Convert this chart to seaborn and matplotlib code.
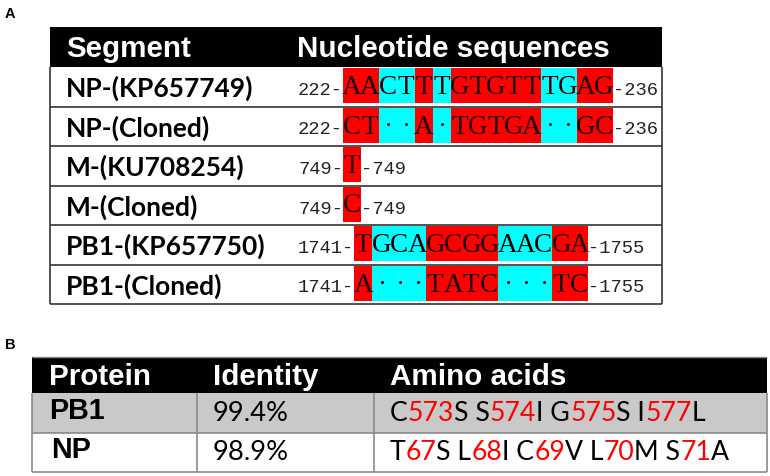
import re
from itertools import groupby

import matplotlib
matplotlib.use("Agg")
import matplotlib.pyplot as plt
from matplotlib.patches import Rectangle
import seaborn as sns

sns.set_theme(style="white")

# ---------------- data ----------------
panel_labels = ["A", "B"]

seg_header = ["Segment", "Nucleotide sequences"]
segments = ["NP-(KP657749)", "NP-(Cloned)", "M-(KU708254)", "M-(Cloned)",
            "PB1-(KP657750)", "PB1-(Cloned)"]
seq_start = ["222", "222", "749", "749", "1741", "1741"]
seq_end = ["236", "236", "749", "749", "1755", "1755"]
sequences = ["AACTTTGTGTTTGAG", "CT··A·TGTGA··GC", "T", "C",
             "TGCAGCGGAACGA", "A···TATC···TC"]
# R = differs (red), C = conserved (cyan)
mismatch = ["RRCCRCRRRRRCCRR", "RRCCRCRRRRRCCRR", "R", "R",
            "RCCCRRRRCCCRR", "RCCCRRRRCCCRR"]

prot_header = ["Protein", "Identity", "Amino acids"]
proteins = ["PB1", "NP"]
identity = ["99.4%", "98.9%"]
amino_acids = ["C573S S574I G575S I577L", "T67S L68I C69V L70M S71A"]

# ---------------- style ----------------
CELL_COLORS = {"R": "#ff0000", "C": "#00ffff"}
SANS_B = dict(family="Liberation Sans", weight="bold")
CAL_B = dict(family="Lato", weight="bold")
CAL_R = dict(family="Lato", weight="normal")
MONO = dict(family="Liberation Mono")
SEQF = dict(family="Liberation Serif")

fig = plt.figure(figsize=(7.7, 4.76), dpi=100)
ax = fig.add_axes([0, 0, 1, 1])
ax.set_xlim(0, 770)
ax.set_ylim(476, 0)
ax.axis("off")
renderer = fig.canvas.get_renderer()


def text_width(s, size, **kw):
    t = ax.text(0, 0, s, fontsize=size, **kw)
    w = t.get_window_extent(renderer).width
    t.remove()
    return w


def fit(s, target, **kw):
    return 20 * target / text_width(s, 20, **kw)


def hline(x0, x1, y, color, lw):
    ax.plot([x0, x1], [y, y], color=color, lw=lw, solid_capstyle="butt")


def vline(x, y0, y1, color, lw):
    ax.plot([x, x], [y0, y1], color=color, lw=lw, solid_capstyle="butt")


# panel labels
ax.text(5, 18, panel_labels[0], fontsize=10.5, va="baseline", ha="left", color="black", **SANS_B)
ax.text(5, 349, panel_labels[1], fontsize=10.5, va="baseline", ha="left", color="black", **SANS_B)

# ---------------- table A ----------------
A_L, A_R, A_T, A_H = 50, 662, 27, 67
ROW_A = 39.5
NUM_X = 298
MONO_ADV = 11.25       # px advance of the small monospace digits
CELL_W = 18.0          # px per nucleotide cell
num_size = MONO_ADV / 0.6 * 0.72

head_size = fit("Segment", 125, **SANS_B)
seg_size = fit(segments[0], 187, **CAL_B)
seq_size = 19.5

ax.add_patch(Rectangle((A_L, A_T), A_R - A_L, A_H - A_T, color="black", lw=0))
ax.text(66, A_T + 30, seg_header[0], fontsize=head_size, color="white", va="baseline", **SANS_B)
ax.text(297, A_T + 30, seg_header[1], fontsize=head_size, color="white", va="baseline", **SANS_B)

lineA = "#333333"
n = len(segments)
for i in range(n):
    top = A_H + i * ROW_A
    base = top + 29
    ax.text(66, base + 1, segments[i], fontsize=seg_size, color="black", va="baseline", **CAL_B)
    ax.text(NUM_X, base - 1, seq_start[i] + "-", fontsize=num_size, color="#222222",
            va="baseline", ha="left", **MONO)
    x0 = NUM_X + (len(seq_start[i]) + 1) * MONO_ADV
    j = 0
    for key, grp in groupby(mismatch[i]):
        k = len(list(grp))
        ax.add_patch(Rectangle((x0 + j * CELL_W, top + 1), k * CELL_W, ROW_A - 4.5,
                               color=CELL_COLORS[key], lw=0))
        j += k
    for j, ch in enumerate(sequences[i]):
        ax.text(x0 + (j + 0.5) * CELL_W, base - 2, ch, fontsize=seq_size, color="#1a0000",
                ha="center", va="baseline", **SEQF)
    ax.text(x0 + len(sequences[i]) * CELL_W, base - 1, "-" + seq_end[i], fontsize=num_size,
            color="#222222", va="baseline", ha="left", **MONO)
    hline(A_L, A_R, top + ROW_A, lineA, 1.2)
A_B = A_H + n * ROW_A
vline(A_L, A_H, A_B, lineA, 1.2)
vline(A_R, A_H, A_B, lineA, 1.2)

# ---------------- table B ----------------
B_L, B_R, B_T, B_H = 32, 767, 357, 393
ROW_B = 39.5
COLS = [49, 213, 390]
DIV = [197, 374]
lineB = "#8a8a8a"
row_fill = ["#c9c9c9", "white"]

headB_size = fit("Protein", 102, **SANS_B)
prot_size = fit("PB1", 56, **SANS_B)
ident_size = fit(identity[0], 76, **CAL_R)
aa_size = fit(amino_acids[0], 315, **CAL_R)

ax.add_patch(Rectangle((B_L, B_T), B_R - B_L, B_H - B_T, color="black", lw=0))
for x, h in zip(COLS, prot_header):
    ax.text(x, B_T + 28, h, fontsize=headB_size, color="white", va="baseline", **SANS_B)


def colored_text(x0, y, s, size, **kw):
    pos = 0
    for tok in re.findall(r"\d+|[^\d]+", s):
        if pos == 0:
            x = x0
        else:
            x = x0 + text_width(s[:pos + 1], size, **kw) - text_width(s[pos], size, **kw)
        color = "#ff0000" if tok.isdigit() else "black"
        ax.text(x, y, tok, fontsize=size, color=color, va="baseline", ha="left", **kw)
        pos += len(tok)


for i in range(len(proteins)):
    top = B_H + i * ROW_B
    ax.add_patch(Rectangle((B_L, top), B_R - B_L, ROW_B, color=row_fill[i], lw=0))
    ax.text(COLS[0] + (2 if i == 1 else 0), top + 26, proteins[i], fontsize=prot_size,
            color="black", va="baseline", **SANS_B)
    ax.text(COLS[1], top + 28, identity[i], fontsize=ident_size, color="black",
            va="baseline", **CAL_R)
    colored_text(COLS[2], top + 28, amino_acids[i], aa_size, **CAL_R)
    hline(B_L, B_R, top + ROW_B, lineB, 1.2)
B_B = B_H + len(proteins) * ROW_B
for x in [B_L, B_R] + DIV:
    vline(x, B_H, B_B, lineB, 1.2)
hline(B_L, B_R, B_T, lineB, 1.0)

fig.savefig("out.png", dpi=100)
